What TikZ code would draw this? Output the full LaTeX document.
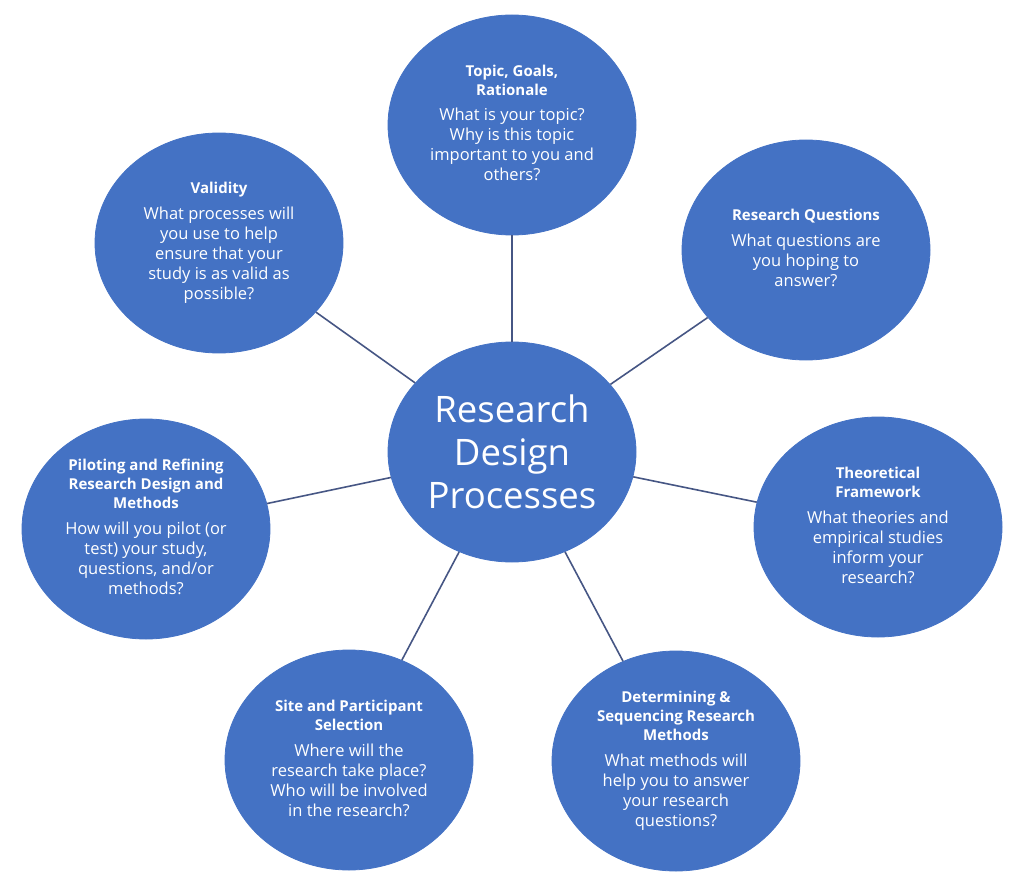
\documentclass[tikz,border=0pt]{standalone}
\usepackage{fontspec}
\setmainfont{Open Sans}
\usetikzlibrary{shapes.geometric}
\definecolor{bubbleblue}{RGB}{68,114,196}
\definecolor{spokeblue}{RGB}{70,86,132}
\newcommand{\bubbletext}[2]{%
  \begin{tabular}{@{}c@{}}%
  {\fontsize{15}{19}\selectfont\bfseries\begin{tabular}{@{}c@{}}#1\end{tabular}}\\
  \noalign{\vskip 6pt}
  {\fontsize{16.5}{20}\selectfont\begin{tabular}{@{}c@{}}#2\end{tabular}}%
  \end{tabular}}

\begin{document}
\begin{tikzpicture}[x=1pt,y=-1pt,
    bubble/.style={ellipse,fill=bubbleblue,draw=bubbleblue,line width=0.8pt,
      minimum width=248pt,minimum height=220pt,inner sep=-20pt,
      text=white,align=center},
    spoke/.style={draw=spokeblue,line width=1.6pt}]
      \useasboundingbox (0,0) rectangle (1024,874);

      \node[bubble,font=\fontsize{36.5}{43}\selectfont] (hub) at (512,452)
        {Research\\Design\\Processes};

      \node[bubble] (topic) at (512,125)
        {\bubbletext{Topic, Goals,\\Rationale}{What is your topic?\\Why is this topic\\important to you and\\others?}};
      \node[bubble] (questions) at (806,250)
        {\bubbletext{Research Questions}{What questions are\\you hoping to\\answer?}};
      \node[bubble] (theory) at (878,527)
        {\bubbletext{Theoretical\\Framework}{What theories and\\empirical studies\\inform your\\research?}};
      \node[bubble] (methods) at (676,761)
        {\bubbletext{Determining \&\\Sequencing Research\\Methods}{What methods will\\help you to answer\\your research\\questions?}};
      \node[bubble] (site) at (349,760)
        {\bubbletext{Site and Participant\\Selection}{Where will the\\research take place?\\Who will be involved\\in the research?}};
      \node[bubble] (piloting) at (146,529)
        {\bubbletext{Piloting and Refining\\Research Design and\\Methods}{How will you pilot (or\\test) your study,\\questions, and/or\\methods?}};
      \node[bubble] (validity) at (219,243)
        {\bubbletext{Validity}{What processes will\\you use to help\\ensure that your\\study is as valid as\\possible?}};

      \foreach \n in {topic,questions,theory,methods,site,piloting,validity}
        \draw[spoke] (hub) -- (\n);
\end{tikzpicture}
\end{document}
